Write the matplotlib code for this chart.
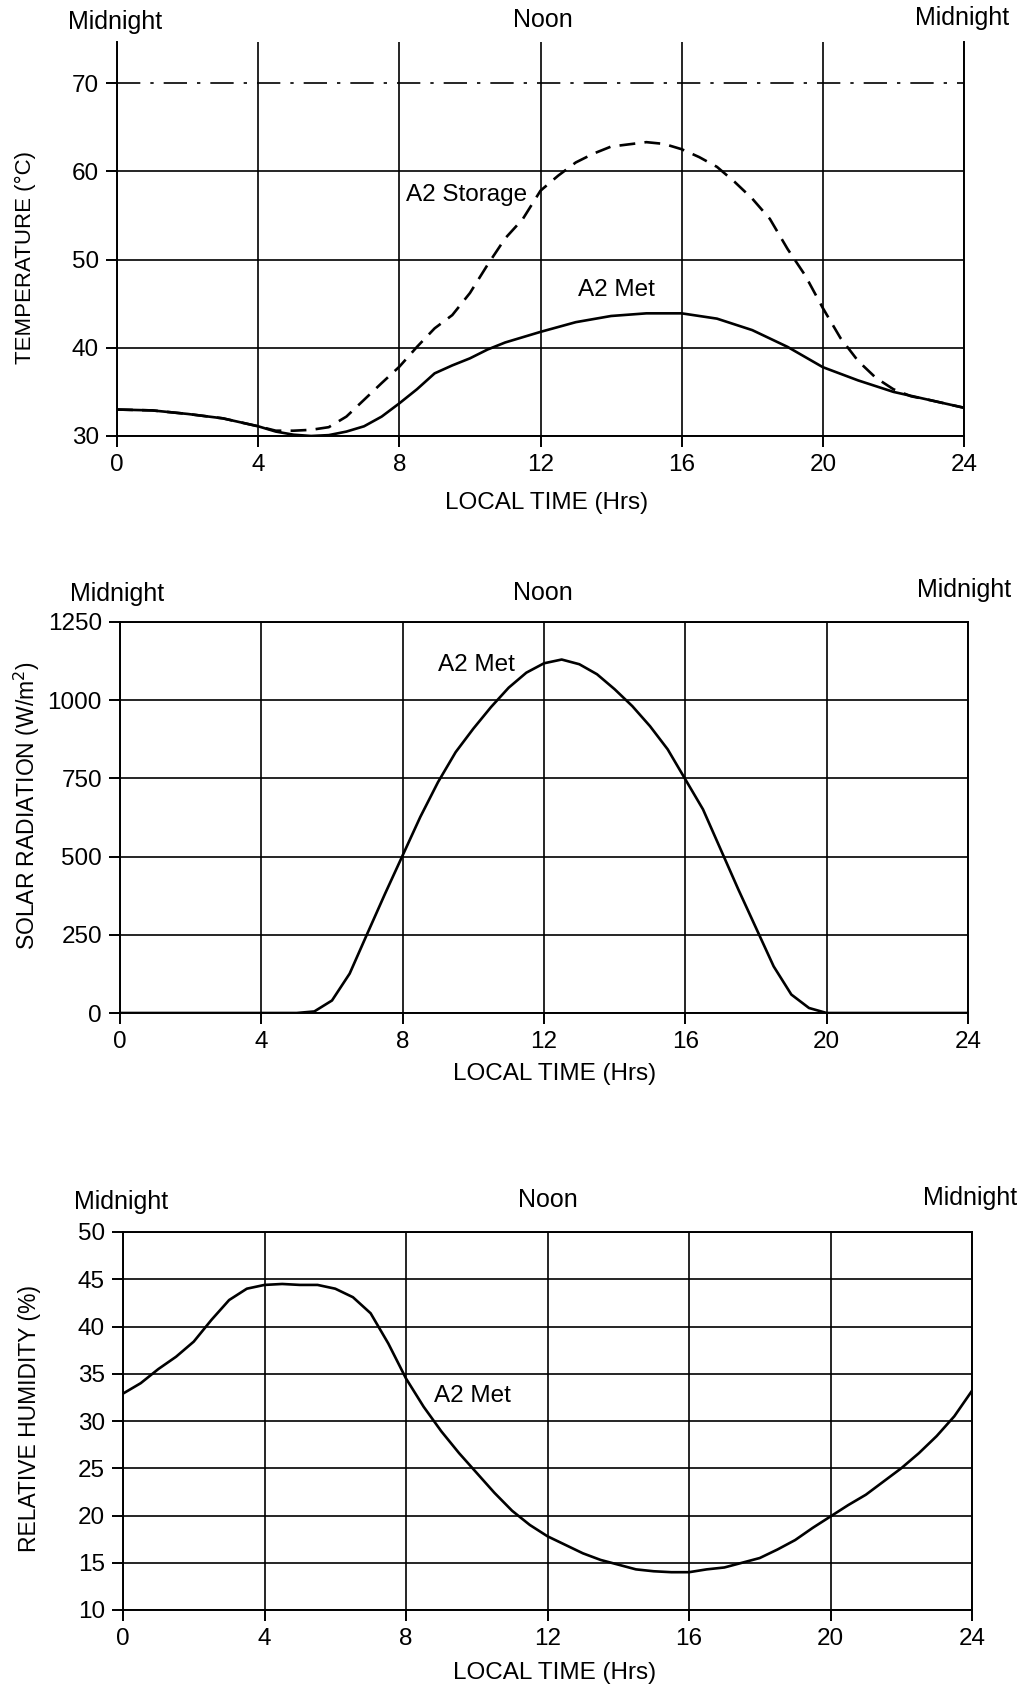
import matplotlib.pyplot as plt

plt.rcParams['font.family'] = ['Liberation Sans', 'DejaVu Sans']

# --- data ---
met_hours = [0, 1, 2, 3, 4, 4.5, 5, 5.5, 6, 6.5, 7, 7.5, 8, 8.5, 9, 9.5, 10, 10.5,
             11, 11.5, 12, 13, 14, 15, 16, 17, 18, 19, 20, 21, 22, 23, 24]
met_temp = [33.0, 32.9, 32.5, 32.0, 31.1, 30.5, 30.15, 30.0, 30.1, 30.5, 31.1, 32.2,
            33.7, 35.3, 37.1, 38.0, 38.8, 39.8, 40.6, 41.2, 41.8, 42.9, 43.6, 43.9,
            43.9, 43.3, 42.0, 40.1, 37.8, 36.3, 35.0, 34.1, 33.2]

storage_hours = [0, 1, 2, 3, 4, 4.5, 5, 5.5, 6, 6.5, 7, 7.5, 8, 8.5, 9, 9.5, 10, 10.5,
                 11, 11.5, 12, 12.5, 13, 13.5, 14, 15, 15.5, 16, 16.5, 17, 17.5, 18,
                 18.5, 19, 19.5, 20, 20.5, 21, 21.5, 22, 22.5, 23, 24]
storage_temp = [33.0, 32.9, 32.5, 32.0, 31.1, 30.6, 30.6, 30.7, 31.0, 32.2, 34.1, 36.0,
                37.85, 40.1, 42.2, 43.7, 46.2, 49.4, 52.4, 54.6, 57.8, 59.5, 61.0, 62.0,
                62.8, 63.3, 63.1, 62.5, 61.6, 60.5, 58.8, 56.9, 54.6, 51.2, 48.2, 44.5,
                41.1, 38.5, 36.6, 35.3, 34.5, 34.1, 33.2]

solar_hours = [0, 4, 5, 5.5, 6, 6.5, 7, 7.5, 8, 8.5, 9, 9.5, 10, 10.5, 11, 11.5, 12,
               12.5, 13, 13.5, 14, 14.5, 15, 15.5, 16, 16.5, 17, 17.5, 18, 18.5, 19,
               19.5, 20, 24]
solar_rad = [0, 0, 0, 5, 40, 126, 254, 381, 504, 627, 738, 834, 909, 978, 1040, 1088,
             1118, 1130, 1115, 1083, 1035, 981, 917, 843, 747, 651, 523, 395, 272,
             149, 59, 16, 0, 0]

rh_hours = [0, 0.5, 1, 1.5, 2, 2.5, 3, 3.5, 4, 4.5, 5, 5.5, 6, 6.5, 7, 7.5, 8, 8.5,
            9, 9.5, 10, 10.5, 11, 11.5, 12, 12.5, 13, 13.5, 14, 14.5, 15, 15.5, 16,
            16.5, 17, 17.5, 18, 18.5, 19, 19.5, 20, 20.5, 21, 21.5, 22, 22.5, 23,
            23.5, 24]
rh = [32.9, 34.0, 35.5, 36.8, 38.4, 40.7, 42.8, 44.0, 44.4, 44.5, 44.4, 44.4, 44.0,
      43.1, 41.4, 38.2, 34.5, 31.5, 28.9, 26.6, 24.5, 22.4, 20.5, 19.0, 17.8, 16.9,
      16.0, 15.3, 14.8, 14.3, 14.1, 14.0, 14.0, 14.3, 14.5, 15.0, 15.5, 16.4, 17.4,
      18.7, 19.9, 21.1, 22.2, 23.6, 25.0, 26.6, 28.4, 30.5, 33.2]

hour_ticks = [0, 4, 8, 12, 16, 20, 24]
temp_ticks = [30, 40, 50, 60, 70]
solar_ticks = [0, 250, 500, 750, 1000, 1250]
rh_ticks = [10, 15, 20, 25, 30, 35, 40, 45, 50]

W, H = 1022, 1697
fig = plt.figure(figsize=(W / 100, H / 100), dpi=100)


def add_ax(l, t, r, b):
    return fig.add_axes([l / W, 1 - b / H, (r - l) / W, (b - t) / H])


def ftext(x, y, s, **kw):
    fig.text(x / W, 1 - y / H, s, ha='center', va='center', **kw)


def style(ax, yticks):
    ax.set_xlim(0, 24)
    ax.set_xticks(hour_ticks)
    ax.set_yticks(yticks)
    ax.grid(True, color='black', lw=1.2)
    ax.tick_params(direction='out', length=8, width=1.4, labelsize=17.5, pad=5,
                   colors='black')
    for s in ax.spines.values():
        s.set_linewidth(1.4)


# temperature
ax1 = add_ax(117, 42, 964, 436)
ax1.plot(storage_hours, storage_temp, color='black', lw=1.9, ls=(0, (6, 3.5)))
ax1.plot(met_hours, met_temp, color='black', lw=1.9)
style(ax1, temp_ticks)
ax1.set_ylim(30, 74.65)
ax1.spines['top'].set_visible(False)
ax1.get_ygridlines()[-1].set_linestyle((0, (14, 6, 2, 6)))
ax1.text(8.2, 57.3, 'A2 Storage', fontsize=17.5, va='center')
ax1.text(13.05, 46.6, 'A2 Met', fontsize=17.5, va='center')
ftext(115, 22, 'Midnight', fontsize=18)
ftext(543, 20, 'Noon', fontsize=18)
ftext(962, 18, 'Midnight', fontsize=18)
ftext(25, 257, 'TEMPERATURE (°C)', fontsize=16, rotation=90)
ftext(547, 503, 'LOCAL TIME (Hrs)', fontsize=17.5)

# solar radiation
ax2 = add_ax(120, 622, 968, 1013)
ax2.plot(solar_hours, solar_rad, color='black', lw=1.9)
style(ax2, solar_ticks)
ax2.set_ylim(0, 1250)
ax2.text(9.0, 1112, 'A2 Met', fontsize=17.5, va='center')
ftext(117, 594, 'Midnight', fontsize=18)
ftext(543, 593, 'Noon', fontsize=18)
ftext(964, 590, 'Midnight', fontsize=18)
ftext(27, 806, 'SOLAR RADIATION (W/m$^2$)', fontsize=16.5, rotation=90)
ftext(555, 1074, 'LOCAL TIME (Hrs)', fontsize=17.5)

# relative humidity
ax3 = add_ax(123, 1232, 972, 1610)
ax3.plot(rh_hours, rh, color='black', lw=1.9)
style(ax3, rh_ticks)
ax3.set_ylim(10, 50)
ax3.text(8.8, 32.6, 'A2 Met', fontsize=17.5, va='center')
ftext(121, 1202, 'Midnight', fontsize=18)
ftext(548, 1200, 'Noon', fontsize=18)
ftext(970, 1198, 'Midnight', fontsize=18)
ftext(30, 1418, 'RELATIVE HUMIDITY (%)', fontsize=16.5, rotation=90)
ftext(555, 1673, 'LOCAL TIME (Hrs)', fontsize=17.5)

fig.savefig('out.png', dpi=100)
